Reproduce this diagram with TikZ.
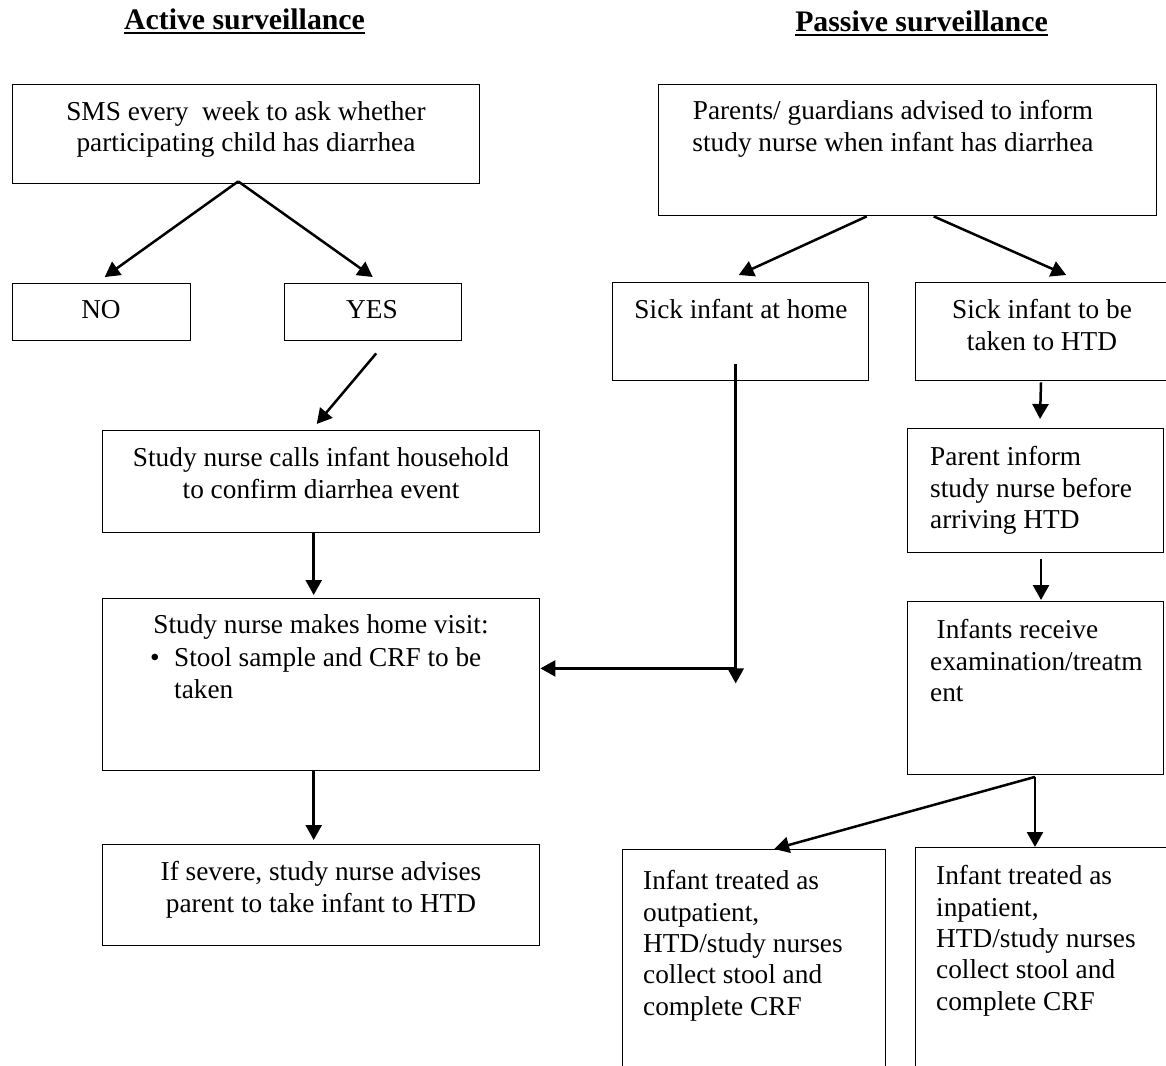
\documentclass[tikz,border=0pt]{standalone}
\usepackage{fontspec}
\setmainfont{Liberation Serif}
\usetikzlibrary{arrows.meta,calc}
\begin{document}
\begin{tikzpicture}[x=1pt,y=-1pt,
  box/.style={draw, line width=1.4pt, inner sep=0pt, anchor=north west},
  txt/.style={inner sep=0pt, font=\fontsize{27.3}{31.3}\selectfont},
  ttl/.style={inner sep=0pt, anchor=base, font=\fontsize{29.8}{34}\selectfont\bfseries},
  arr/.style={line width=2.5pt, -{Triangle[length=15pt,width=16pt]}},
  uline/.style={line width=2.2pt}]
\useasboundingbox (0,0) rectangle (1166,1065);
\clip (0,0) rectangle (1166,1065);

% titles
\node[ttl] (tact) at (244.5,29.5) {Active surveillance};
\node[ttl] (tpas) at (921.5,31.5) {Passive surveillance};
\draw[uline] ($(tact.base west)+(0,3.8)$) -- ($(tact.base east)+(0,3.8)$);
\draw[uline] ($(tpas.base west)+(0,3.8)$) -- ($(tpas.base east)+(0,3.8)$);

% boxes
\node[box, minimum width=467pt, minimum height=99pt] (sms) at (12,84) {};
\node[box, minimum width=178pt, minimum height=57pt] (no) at (12,283) {};
\node[box, minimum width=177pt, minimum height=57pt] (yes) at (284,283) {};
\node[box, minimum width=437pt, minimum height=102pt] (calls) at (102,430) {};
\node[box, minimum width=437pt, minimum height=172pt] (visit) at (102,598) {};
\node[box, minimum width=437pt, minimum height=101pt] (severe) at (102,844) {};
\node[box, minimum width=498pt, minimum height=131pt] (parents) at (658,84) {};
\node[box, minimum width=256pt, minimum height=98pt] (home) at (612,282) {};
\node[box, minimum width=275pt, minimum height=98pt] (taken) at (915,282) {};
\node[box, minimum width=256pt, minimum height=124pt] (inform) at (907,428) {};
\node[box, minimum width=256pt, minimum height=173pt] (exam) at (907,601) {};
\node[box, minimum width=263pt, minimum height=260pt] (outp) at (622,849) {};
\node[box, minimum width=275pt, minimum height=260pt] (inp) at (915,847) {};

% texts
\node[txt, anchor=north, align=center] (tsms) at (246,101.4)
  {SMS every\ \ week to ask whether\\participating child has diarrhea};
\node[txt, anchor=base] (tno) at (101,318) {NO};
\node[txt, anchor=base] (tyes) at (372,318) {YES};
\node[txt, anchor=north, align=center] (tcalls) at (321,447.4)
  {Study nurse calls infant household\\to confirm diarrhea event};
\node[txt, anchor=base] (tvisit) at (321,633.5) {Study nurse makes home visit:};
\node[txt, anchor=north west, align=left] (tbul) at (150,647.8)
  {\makebox[24pt][l]{\textbullet}Stool sample and CRF to be\\\hspace*{24pt}taken};
\node[txt, anchor=north, align=center] (tsev) at (321,861.4)
  {If severe, study nurse advises\\parent to take infant to HTD};
\node[txt, anchor=north, align=center] (tpar) at (893,100.4)
  {Parents/ guardians advised to inform\\study nurse when infant has diarrhea};
\node[txt, anchor=base] (thome) at (741,318) {Sick infant at home};
\node[txt, anchor=north, align=center] (ttak) at (1042,299.4)
  {Sick infant to be\\taken to HTD};
\node[txt, anchor=north west, align=left] (tinf) at (930,446.4)
  {Parent inform\\study nurse before\\arriving HTD};
\node[txt, anchor=north west, align=left] (texam) at (930,619.4)
  {\hspace*{6.5pt}Infants receive\\examination/treatm\\ent};
\node[txt, anchor=north west, align=left] (tout) at (643,870.4)
  {Infant treated as\\outpatient,\\HTD/study nurses\\collect stool and\\complete CRF};
\node[txt, anchor=north west, align=left] (tin) at (936,865.4)
  {Infant treated as\\inpatient,\\HTD/study nurses\\collect stool and\\complete CRF};

% connectors
\coordinate (apex) at ($(sms.south)+(-8,-3)$);
\draw[arr] (apex) -- ($(no.north)+(3,-6)$);
\draw[arr] (apex) -- ($(yes.north)+(-0.5,-6)$);
\draw[arr] ($(yes.south)+(3,12)$) -- ($(calls.north)+(-4.5,-6)$);
\draw[arr] ($(calls.south)+(-7.5,0)$) -- ($(visit.north)+(-7.5,-3)$);
\draw[arr] ($(visit.south)+(-7.5,0)$) -- ($(severe.north)+(-7.5,-4)$);

\draw[arr] ($(parents.south)+(-41,0)$) -- ($(home.north)+(-2,-7)$);
\draw[arr] ($(parents.south)+(26,0)$) -- ($(taken.north)+(13,-7)$);
\coordinate (hturn) at ($(home.south)+(-5,287)$);
\draw[arr] ($(home.south)+(-5,-17)$) -- ($(home.south)+(-5,302)$);
\draw[arr] (hturn) -- (visit.east |- hturn);
\draw[arr] ($(taken.south west)+(126,1)$) -- ($(inform.north west)+(133,-9)$);
\draw[arr] ($(inform.south west)+(134,6)$) -- ($(exam.north west)+(134,-1)$);
\coordinate (esplit) at ($(exam.south west)+(128,1.5)$);
\draw[arr] (esplit) -- ($(outp.north)+(20,0)$);
\draw[arr] (esplit) -- (esplit |- inp.north);
\end{tikzpicture}
\end{document}
